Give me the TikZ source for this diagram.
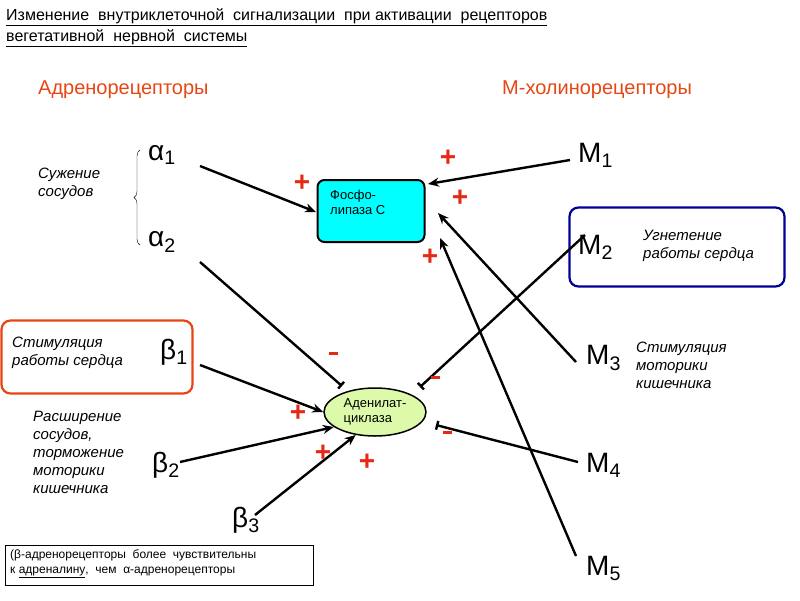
\documentclass[tikz,border=0pt]{standalone}
\usepackage{fontspec}
\setmainfont{Liberation Sans}
\usetikzlibrary{arrows.meta,decorations.pathreplacing,shapes.geometric}
\definecolor{orng}{RGB}{230,70,20}
\definecolor{plus}{RGB}{230,40,20}
\definecolor{acfill}{RGB}{220,250,170}
\definecolor{cyn}{RGB}{0,255,255}
\begin{document}
\begin{tikzpicture}[x=1pt,y=-1pt,
  rec/.style={font=\fontsize{28}{30}\selectfont,anchor=west,inner sep=0},
  note/.style={font=\itshape\fontsize{15}{18}\selectfont,align=left,anchor=north west,inner sep=0},
  sgn/.style={text=plus,font=\bfseries\fontsize{28}{28}\selectfont,inner sep=0},
  mns/.style={fill=plus,minimum width=9pt,minimum height=3pt,inner sep=0},
  arr/.style={line width=2.4pt,-{Stealth[length=11pt,width=9pt]}},
  tee/.style={line width=2.4pt,-{Bar[width=9pt]}}]
\useasboundingbox (0,0) rectangle (800,600);
\node[anchor=north west,align=left,inner sep=0,font=\fontsize{16}{21}\selectfont] (title) at (6,8)
  {\underline{Изменение\ \ внутриклеточной\ \ сигнализации\ \ при активации\ \ рецепторов}\\\underline{вегетативной\ \ нервной\ \ системы}};
\node[anchor=west,inner sep=0,text=orng,font=\fontsize{20}{22}\selectfont] (adr) at (38,90) {Адренорецепторы};
\node[anchor=west,inner sep=0,text=orng,font=\fontsize{20}{22}\selectfont] (mch) at (502,90) {М-холинорецепторы};
\node[rec] (a1) at (148,155) {α\textsubscript{1}};
\node[rec] (a2) at (148,242) {α\textsubscript{2}};
\node[rec] (b1) at (160,352) {β\textsubscript{1}};
\node[rec] (b2) at (152,465) {β\textsubscript{2}};
\node[rec] (b3) at (232,520) {β\textsubscript{3}};
\node[rec] (m1) at (578,155) {M\textsubscript{1}};
\node[rec] (m2) at (578,247) {M\textsubscript{2}};
\node[rec] (m3) at (586,358) {M\textsubscript{3}};
\node[rec] (m4) at (586,465) {M\textsubscript{4}};
\node[rec] (m5) at (586,568) {M\textsubscript{5}};
\draw[decorate,decoration={brace,amplitude=6pt}] (140,245) -- (140,150);
\node[note] (sz) at (38,168) {Сужение\\сосудов};
\node[draw,line width=2pt,fill=cyn,rounded corners=7pt,minimum width=107pt,minimum height=62pt] (plc) at (371,211) {};
\node[anchor=north west,align=left,inner sep=0,font=\fontsize{13}{15}\selectfont] (plct) at (330,190) {Фосфо-\\липаза С};
\node[draw,line width=1.5pt,fill=acfill,ellipse,minimum width=102pt,minimum height=48pt,inner sep=0,align=left,font=\fontsize{13}{15}\selectfont] (ac) at (375,412) {Аденилат-\\циклаза};
\node[draw=orng,line width=2.2pt,rounded corners=9pt,minimum width=191pt,minimum height=73pt] (bx1) at (97,357) {};
\node[note,font=\itshape\fontsize{15}{18}\selectfont] (t1) at (12,337) {Стимуляция\\работы сердца};
\node[draw=blue!60!black,line width=2.2pt,rounded corners=9pt,minimum width=215pt,minimum height=79pt] (bx2) at (677,247) {};
\node[note,font=\itshape\fontsize{15}{18}\selectfont] (t2) at (643,230) {Угнетение\\работы сердца};
\node[note,font=\itshape\fontsize{15}{18}\selectfont] (t3) at (33,411) {Расширение\\сосудов,\\торможение\\моторики\\кишечника};
\node[note,font=\itshape\fontsize{15}{18}\selectfont] (t4) at (636,342) {Стимуляция\\моторики\\кишечника};
\node[draw,line width=0.6pt,minimum width=308pt,minimum height=40pt] (bx3) at (159,565) {};
\node[anchor=north west,align=left,inner sep=0,font=\fontsize{12}{15}\selectfont] (t5) at (10,549) {(β-адренорецепторы\ \ более\ \ чувствительны\\к \underline{адреналину},\ \ чем\ \ α-адренорецепторы};
\coordinate (pa1) at (316,212);
\coordinate (pm1) at (428,184);
\coordinate (pm3) at (438,213);
\coordinate (pm5) at (440,238);
\coordinate (ta2) at (342,386);
\coordinate (tm2) at (420,387);
\coordinate (tm4) at (436,425);
\draw[arr] (200,166) -- (pa1);
\draw[arr] (570,160) -- (pm1);
\draw[arr] (576,362) -- (pm3);
\draw[arr] (576,556) -- (pm5);
\draw[tee] (200,262) -- (ta2);
\draw[tee] (585,235) -- (tm2);
\draw[tee] (578,462) -- (tm4);
\draw[arr] (200,365) -- (ac.west);
\draw[arr] (180,462) -- (ac.200);
\draw[arr] (255,515) -- (ac.230);
\node[sgn] at (302,183) {+};
\node[sgn] at (448,158) {+};
\node[sgn] at (460,198) {+};
\node[sgn] at (430,257) {+};
\node[sgn] at (298,413) {+};
\node[sgn] at (323,453) {+};
\node[sgn] at (367,462) {+};
\node[mns] at (333,353) {};
\node[mns] at (435,377) {};
\node[mns] at (447,432) {};
\end{tikzpicture}
\end{document}
